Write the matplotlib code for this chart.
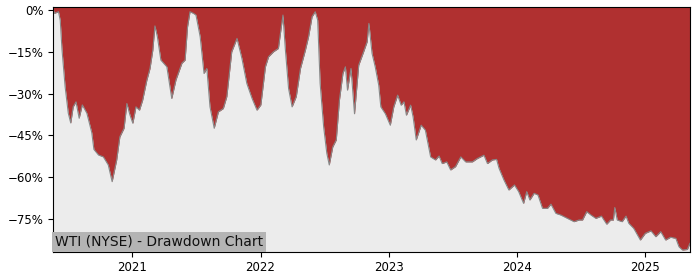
import pandas as pd
import matplotlib
matplotlib.use("Agg")
import matplotlib.pyplot as plt
import matplotlib.dates as mdates
from matplotlib.ticker import FuncFormatter

# drawdown (percent below running peak)
dates = [
    "2020-05-21", "2020-05-23", "2020-06-04", "2020-06-09", "2020-06-14", "2020-06-23",
    "2020-07-02", "2020-07-09", "2020-07-16", "2020-07-24", "2020-08-02", "2020-08-11",
    "2020-08-24", "2020-09-07", "2020-09-13", "2020-09-26", "2020-10-10", "2020-10-24",
    "2020-11-04", "2020-11-17", "2020-11-26", "2020-12-08", "2020-12-16", "2020-12-25",
    "2021-01-02", "2021-01-11", "2021-01-21", "2021-01-30", "2021-02-11", "2021-02-20",
    "2021-02-28", "2021-03-06", "2021-03-13", "2021-03-23", "2021-04-09", "2021-04-23",
    "2021-05-05", "2021-05-22", "2021-05-31", "2021-06-07", "2021-06-14", "2021-06-24",
    "2021-07-01", "2021-07-13", "2021-07-24", "2021-08-01", "2021-08-10", "2021-08-22",
    "2021-09-03", "2021-09-17", "2021-09-27", "2021-10-11", "2021-10-26", "2021-11-09",
    "2021-11-23", "2021-12-08", "2021-12-22", "2022-01-02", "2022-01-15", "2022-01-24",
    "2022-02-07", "2022-02-21", "2022-02-28", "2022-03-06", "2022-03-13", "2022-03-22",
    "2022-04-01", "2022-04-13", "2022-04-25", "2022-05-09", "2022-05-18", "2022-05-28",
    "2022-06-06", "2022-06-13", "2022-06-20", "2022-06-30", "2022-07-09", "2022-07-16",
    "2022-07-26", "2022-08-05", "2022-08-14", "2022-08-24", "2022-08-31", "2022-09-06",
    "2022-09-16", "2022-09-26", "2022-10-08", "2022-10-22", "2022-11-01", "2022-11-06",
    "2022-11-15", "2022-11-24", "2022-12-04", "2022-12-10", "2022-12-23", "2023-01-06",
    "2023-01-16", "2023-01-27", "2023-02-06", "2023-02-14", "2023-02-21", "2023-03-05",
    "2023-03-12", "2023-03-21", "2023-04-04", "2023-04-16", "2023-05-01", "2023-05-15",
    "2023-05-25", "2023-06-03", "2023-06-16", "2023-06-27", "2023-07-11", "2023-07-26",
    "2023-08-09", "2023-08-28", "2023-09-11", "2023-09-30", "2023-10-10", "2023-10-24",
    "2023-11-05", "2023-11-12", "2023-11-26", "2023-12-10", "2023-12-26", "2024-01-07",
    "2024-01-21", "2024-01-30", "2024-02-08", "2024-02-20", "2024-03-02", "2024-03-15",
    "2024-03-29", "2024-04-08", "2024-04-22", "2024-05-06", "2024-05-25", "2024-06-13",
    "2024-06-27", "2024-07-07", "2024-07-19", "2024-07-31", "2024-08-14", "2024-08-30",
    "2024-09-14", "2024-09-25", "2024-10-03", "2024-10-07", "2024-10-14", "2024-10-28",
    "2024-11-08", "2024-11-16", "2024-11-30", "2024-12-19", "2025-01-02", "2025-01-18",
    "2025-02-01", "2025-02-15", "2025-03-01", "2025-03-15", "2025-03-30", "2025-04-08",
    "2025-04-18", "2025-05-02", "2025-05-09",
]
drawdown = [
    0.0, -1.1, -0.5, -3.5, -14.0, -27.5,
    -37.0, -40.5, -34.7, -32.9, -38.8, -34.0,
    -37.0, -44.0, -50.0, -52.0, -52.7, -55.6,
    -61.6, -53.8, -45.5, -42.4, -33.5, -37.7,
    -40.6, -34.7, -35.9, -32.3, -25.1, -20.9,
    -14.3, -5.6, -9.5, -17.9, -20.3, -31.7,
    -25.0, -19.0, -17.9, -5.9, -0.5, -1.1,
    -1.7, -9.5, -22.7, -20.9, -34.7, -42.4,
    -36.5, -35.3, -31.0, -14.9, -10.1, -17.3,
    -26.3, -31.7, -35.9, -34.0, -20.3, -16.7,
    -14.9, -13.7, -7.1, -1.7, -14.3, -28.1,
    -34.7, -31.0, -20.9, -14.3, -9.5, -2.3,
    -0.5, -3.5, -26.3, -41.9, -51.4, -55.6,
    -49.1, -46.6, -32.3, -22.7, -20.3, -28.7,
    -20.9, -37.2, -19.7, -14.9, -11.3, -4.7,
    -15.5, -20.3, -26.9, -34.7, -37.2, -41.3,
    -34.7, -30.5, -34.1, -32.9, -37.7, -34.1,
    -38.3, -46.6, -41.3, -43.1, -52.7, -53.8,
    -52.4, -55.1, -54.5, -57.4, -56.2, -52.7,
    -54.5, -54.5, -53.3, -52.1, -55.1, -53.8,
    -53.6, -56.8, -61.0, -64.6, -62.8, -65.2,
    -69.4, -65.2, -68.2, -65.8, -66.4, -71.2,
    -71.2, -69.7, -73.0, -73.6, -74.8, -76.0,
    -75.4, -75.4, -72.4, -73.6, -74.8, -74.0,
    -76.9, -75.4, -75.4, -70.9, -75.4, -76.0,
    -74.0, -76.6, -78.4, -82.6, -80.2, -79.3,
    -81.4, -79.6, -82.6, -81.6, -82.0, -85.0,
    -86.2, -86.0, -83.8,
]
title = "WTI (NYSE) - Drawdown Chart"

x = pd.to_datetime(dates)
y_top = 1.1
y_bottom = -86.8

fig, ax = plt.subplots(figsize=(7, 2.8), dpi=100)
fig.subplots_adjust(left=0.076, right=0.986, top=0.974, bottom=0.101)

ax.set_facecolor("#ececec")
ax.fill_between(x, drawdown, y_top, color="#b03030", linewidth=0)
ax.plot(x, drawdown, color="#888888", linewidth=0.8)

ax.set_xlim(pd.Timestamp("2020-05-20"), pd.Timestamp("2025-05-10"))
ax.set_ylim(y_bottom, y_top)
ax.set_yticks([0, -15, -30, -45, -60, -75])
ax.yaxis.set_major_formatter(FuncFormatter(lambda v, p: "%d%%" % v if v == 0 else "\u2212%d%%" % abs(v)))
ax.xaxis.set_major_locator(mdates.YearLocator())
ax.xaxis.set_major_formatter(mdates.DateFormatter("%Y"))
ax.tick_params(labelsize=8.5)

ax.text(0.003, 0.012, title, transform=ax.transAxes, fontsize=10, color="#111111",
        ha="left", va="bottom",
        bbox=dict(facecolor="#b4b4b4", edgecolor="none", pad=2))

plt.savefig("out.png", dpi=100)
